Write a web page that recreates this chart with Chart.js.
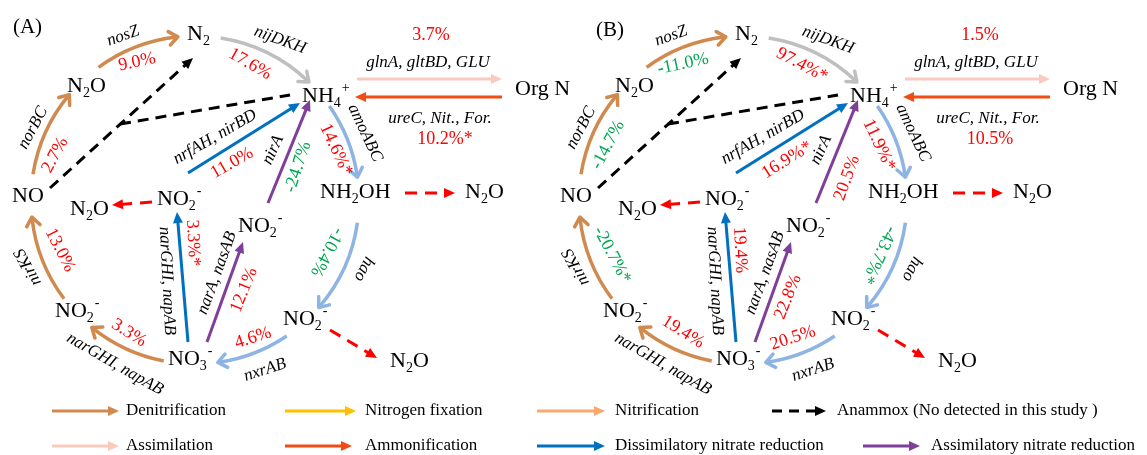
<!DOCTYPE html>
<html>
<head>
<meta charset="utf-8">
<title>Nitrogen cycle gene abundance</title>
<script src="https://cdn.jsdelivr.net/npm/chart.js@4.4.1/dist/chart.umd.min.js"></script>
<style>
  html, body { margin: 0; padding: 0; background: #ffffff; overflow: hidden; }
  #wrap { width: 1147px; height: 455px; position: relative; }
</style>
</head>
<body>
<div id="wrap"><canvas id="cycle"></canvas></div>
<script>
// ---------------- data ----------------
// Gene groups annotated along each step of the nitrogen cycle
const pathways = ['norBC', 'nosZ', 'nijDKH', 'amoABC', 'hao', 'nxrAB', 'narGHI, napAB', 'nirKS',
                  'narGHI, napAB', 'narA, nasAB', 'nirA', 'nrfAH, nirBD', 'glnA, gltBD, GLU', 'ureC, Nit., For.'];
// Relative change (%) of each gene group, panel A and panel B; true marks a significant change (*)
const changeA = [2.7, 9.0, 17.6, 14.6, -10.4, 4.6, 3.3, 13.0, 3.3, 12.1, -24.7, 11.0, 3.7, 10.2];
const signifA = [false, false, false, true, false, false, false, false, true, false, false, false, false, true];
const changeB = [-14.7, -11.0, 97.4, 11.9, -43.7, 20.5, 19.4, -20.7, 19.4, 22.8, 20.5, 16.9, 1.5, 10.5];
const signifB = [false, false, true, true, true, false, false, true, false, false, false, true, false, false];
const panelTitles = ['(A)', '(B)'];
// Nitrogen species ('_' = subscript, '^' = superscript)
const species = ['N_2', 'N_2O', 'NO', 'NH_4^+', 'Org N', 'NH_2OH', 'N_2O', 'N_2O',
                 'NO_2^-', 'NO_2^-', 'NO_2^-', 'NO_3^-', 'NO_2^-', 'N_2O'];
const processes = ['Denitrification', 'Nitrogen fixation', 'Nitrification', 'Anammox (No detected in this study )',
                   'Assimilation', 'Ammonification', 'Dissimilatory nitrate reduction', 'Assimilatory nitrate reduction'];

// ---------------- layout (diagram units) ----------------
const PANEL_SHIFT = [0, 548];
const TITLE_POS = [[27.5, 27], [610, 30]];
const RING = { cx: 195, cy: 200, r: 164 };
// species anchors: left edge, baseline
const SPECIES_POS = [[187, 40], [67, 92], [12, 202], [302, 102], [515, 95], [320, 198], [465, 198], [70, 215],
                     [157, 205], [238, 232], [55, 317], [168, 365], [283, 325], [390, 367]];
// ring arcs (degrees, drawn clockwise) for pathways 0..7
const ARC_SPAN = [[189, 220], [234, 264], [-81, -46], [-35, -8], [8, 41], [56, 82], [101, 129], [143, 174]];
// straight arrows for pathways 8..13: start x, y, tip x, y
const LINE_ENDS = [[188, 342, 177, 212], [207, 342, 243, 242], [268, 203, 310, 100],
                   [188, 173, 300, 103], [357, 79, 502, 79], [502, 97, 355, 97]];
// gene label centres and rotation
const GENE_POS = [[33, 128, -62], [123, 36, -20], [280, 40, 20], [365, 133, 65], [364, 269, 118], [265, 370, -18],
                  [115, 364, 30], [28, 267, -118], [167, 281, 87], [217, 273, -70], [273, 150, -65],
                  [215, 137, -30], [428, 63, 0], [440, 119, 0]];
// value label centres and rotation (absolute)
const VALUE_POS = [
  [[55, 155, -62], [137, 62, -12], [250, 64, 30], [336, 150, 65], [327, 252, 118], [253, 338, -18], [129, 333, 32],
   [60, 250, 63], [193, 243, 87], [244, 290, -68], [298, 167, -72], [232, 163, -30], [431, 35, 0], [445, 139, 0]],
  [[608, 145, -62], [683, 64, -12], [802, 65, 28], [879, 145, 65], [879, 255, 115], [793, 338, -18], [683, 332, 32],
   [612, 255, 62], [740, 250, 87], [788, 297, -68], [847, 178, -70], [787, 160, -32], [980, 35, 0], [990, 139, 0]]
];
// anammox (dashed) segments: x0, y0, x1, y1, arrowhead
const ANAMMOX = [[50, 188, 193, 58, true], [120, 124, 290, 95, false]];
// N2O emission (dashed red) arrows
const EMISSION = [[405, 193, 455, 193], [152, 202, 112, 205], [330, 330, 377, 358]];
// legend rows: arrow start, arrow end, text x, y
const LEGEND_POS = [[52, 119, 126, 411], [285, 356, 365, 411], [537, 605, 615, 411], [772, 826, 837, 411],
                    [52, 119, 126, 446], [285, 352, 365, 446], [537, 605, 615, 446], [863, 920, 931, 446]];

// ---------------- styles ----------------
const C = {
  den: '#D0894E', fix: '#FFC000', nit: '#F8A870', anx: '#000000', asm: '#F9CBBE', amm: '#F04C14',
  dis: '#0070C0', ass: '#7F3F98', grey: '#BFBFBF', ltblue: '#8DB4E2', up: '#FF0000', down: '#00A651'
};
const PATH_COLOR = [C.den, C.den, C.grey, C.ltblue, C.ltblue, C.ltblue, C.den, C.den,
                    C.dis, C.ass, C.ass, C.dis, C.asm, C.amm];
const LEGEND_COLOR = [C.den, C.fix, C.nit, C.anx, C.asm, C.amm, C.dis, C.ass];
const SERIF = '"Liberation Serif", "Times New Roman", serif';
const F_SPECIES = '22px ' + SERIF;
const F_SMALL = '14px ' + SERIF;
const F_GENE = 'italic 17px ' + SERIF;
const F_VALUE = '18px ' + SERIF;
const F_LEGEND = '17px ' + SERIF;
const F_TITLE = '21px ' + SERIF;

const rad = d => d * Math.PI / 180;

function triangleHead(ctx, x, y, ang, len, half, color) {
  const bx = x - len * Math.cos(ang), by = y - len * Math.sin(ang);
  const nx = -Math.sin(ang) * half, ny = Math.cos(ang) * half;
  ctx.fillStyle = color;
  ctx.beginPath();
  ctx.moveTo(x, y);
  ctx.lineTo(bx + nx, by + ny);
  ctx.lineTo(bx - nx, by - ny);
  ctx.closePath();
  ctx.fill();
}

function chevronHead(ctx, x, y, ang, len, spread, color, width) {
  ctx.strokeStyle = color;
  ctx.lineWidth = width;
  ctx.lineJoin = 'round';
  ctx.lineCap = 'round';
  ctx.setLineDash([]);
  ctx.beginPath();
  ctx.moveTo(x - len * Math.cos(ang - spread), y - len * Math.sin(ang - spread));
  ctx.lineTo(x, y);
  ctx.lineTo(x - len * Math.cos(ang + spread), y - len * Math.sin(ang + spread));
  ctx.stroke();
}

function straightArrow(ctx, x0, y0, x1, y1, color, width, dash, head) {
  const ang = Math.atan2(y1 - y0, x1 - x0);
  const cut = head ? 8 : 0;
  ctx.strokeStyle = color;
  ctx.lineWidth = width;
  ctx.lineCap = 'butt';
  ctx.setLineDash(dash || []);
  ctx.beginPath();
  ctx.moveTo(x0, y0);
  ctx.lineTo(x1 - cut * Math.cos(ang), y1 - cut * Math.sin(ang));
  ctx.stroke();
  ctx.setLineDash([]);
  if (head) triangleHead(ctx, x1, y1, ang, 11, 5, color);
}

function rotatedText(ctx, txt, x, y, deg, font, color) {
  ctx.save();
  ctx.translate(x, y);
  ctx.rotate(rad(deg));
  ctx.font = font;
  ctx.fillStyle = color;
  ctx.textAlign = 'center';
  ctx.textBaseline = 'middle';
  ctx.fillText(txt, 0, 0);
  ctx.restore();
}

function speciesText(ctx, str, x, y) {
  ctx.fillStyle = '#000';
  ctx.textAlign = 'left';
  ctx.textBaseline = 'alphabetic';
  let cx = x, run = '';
  const flush = () => {
    if (!run) return;
    ctx.font = F_SPECIES;
    ctx.fillText(run, cx, y);
    cx += ctx.measureText(run).width;
    run = '';
  };
  for (let i = 0; i < str.length; i++) {
    const ch = str[i];
    if (ch === '_' || ch === '^') {
      flush();
      const s = str[++i];
      ctx.font = F_SMALL;
      ctx.fillText(s, cx + (ch === '^' ? 1 : 0), y + (ch === '_' ? 5 : -10));
      cx += ctx.measureText(s).width + (ch === '^' ? 1 : 0);
    } else {
      run += ch;
    }
  }
  flush();
}

const fmt = (v, s) => v.toFixed(1) + '%' + (s ? '*' : '');

const cyclePlugin = {
  id: 'nitrogenCycle',
  beforeDraw(chart) {
    const { ctx, width, height } = chart;
    ctx.save();
    ctx.fillStyle = '#ffffff';
    ctx.fillRect(0, 0, width, height);
    ctx.restore();
  },
  afterDatasetsDraw(chart) {
    const ctx = chart.ctx;
    const xs = chart.scales.x, ys = chart.scales.y;
    const X = v => xs.getPixelForValue(v);
    const Y = v => ys.getPixelForValue(v);
    ctx.save();

    [changeA, changeB].forEach((vals, p) => {
      const sh = PANEL_SHIFT[p];
      const sig = p === 0 ? signifA : signifB;

      // panel title
      ctx.font = F_TITLE;
      ctx.fillStyle = '#000';
      ctx.textAlign = 'center';
      ctx.textBaseline = 'middle';
      ctx.fillText(panelTitles[p], X(TITLE_POS[p][0]), Y(TITLE_POS[p][1]));

      // anammox (not detected) dashed links
      ANAMMOX.forEach(a => {
        straightArrow(ctx, X(a[0] + sh), Y(a[1]), X(a[2] + sh), Y(a[3]), C.anx, 3, [11, 7], a[4]);
      });

      // N2O emission dashed arrows
      EMISSION.forEach(e => {
        straightArrow(ctx, X(e[0] + sh), Y(e[1]), X(e[2] + sh), Y(e[3]), '#FF0000', 3, [12, 8], true);
      });

      // ring arcs
      const cx = X(RING.cx + sh), cy = Y(RING.cy);
      const r = X(RING.cx + RING.r) - X(RING.cx);
      ARC_SPAN.forEach((span, i) => {
        const a0 = rad(span[0]), a1 = rad(span[1]);
        ctx.strokeStyle = PATH_COLOR[i];
        ctx.lineWidth = 3.5;
        ctx.lineCap = 'butt';
        ctx.setLineDash([]);
        ctx.beginPath();
        ctx.arc(cx, cy, r, a0, a1 - 1.5 / r, false);
        ctx.stroke();
        const tx = cx + r * Math.cos(a1), ty = cy + r * Math.sin(a1);
        const tang = a1 + Math.PI / 2 - 0.06;
        chevronHead(ctx, tx, ty, tang, 11, rad(38), PATH_COLOR[i], 3.5);
      });

      // straight arrows
      LINE_ENDS.forEach((l, j) => {
        const i = j + ARC_SPAN.length;
        straightArrow(ctx, X(l[0] + sh), Y(l[1]), X(l[2] + sh), Y(l[3]), PATH_COLOR[i], 3, null, true);
      });

      // species
      species.forEach((s, k) => {
        const pos = SPECIES_POS[k];
        speciesText(ctx, s, X(pos[0] + sh), Y(pos[1]));
      });

      // gene labels and values
      pathways.forEach((g, i) => {
        const gp = GENE_POS[i];
        rotatedText(ctx, g, X(gp[0] + sh), Y(gp[1]), gp[2], F_GENE, '#000');
        const vp = VALUE_POS[p][i];
        rotatedText(ctx, fmt(vals[i], sig[i]), X(vp[0]), Y(vp[1]), vp[2], F_VALUE,
                    vals[i] < 0 ? C.down : C.up);
      });
    });

    // legend
    processes.forEach((name, k) => {
      const lp = LEGEND_POS[k];
      const dashed = k === 3;
      straightArrow(ctx, X(lp[0]), Y(lp[3]), X(lp[1]), Y(lp[3]), LEGEND_COLOR[k], 3, dashed ? [10, 7] : null, true);
      ctx.font = F_LEGEND;
      ctx.fillStyle = '#000';
      ctx.textAlign = 'left';
      ctx.textBaseline = 'middle';
      ctx.fillText(name, X(lp[2]), Y(lp[3]));
    });

    ctx.restore();
  }
};

// species anchor points, one dataset per panel (invisible markers)
const anchorData = p => SPECIES_POS.map(s => ({ x: s[0] + PANEL_SHIFT[p], y: s[1] }));

new Chart(document.getElementById('cycle'), {
  type: 'scatter',
  data: {
    datasets: [
      { label: panelTitles[0], data: anchorData(0), pointRadius: 0 },
      { label: panelTitles[1], data: anchorData(1), pointRadius: 0 }
    ]
  },
  options: {
    responsive: true,
    maintainAspectRatio: false,
    animation: false,
    events: [],
    layout: { padding: 0 },
    plugins: { legend: { display: false }, tooltip: { enabled: false } },
    scales: {
      x: { type: 'linear', min: 0, max: 1147, display: false },
      y: { type: 'linear', min: 0, max: 455, reverse: true, display: false }
    }
  },
  plugins: [cyclePlugin]
});
</script>
</body>
</html>
